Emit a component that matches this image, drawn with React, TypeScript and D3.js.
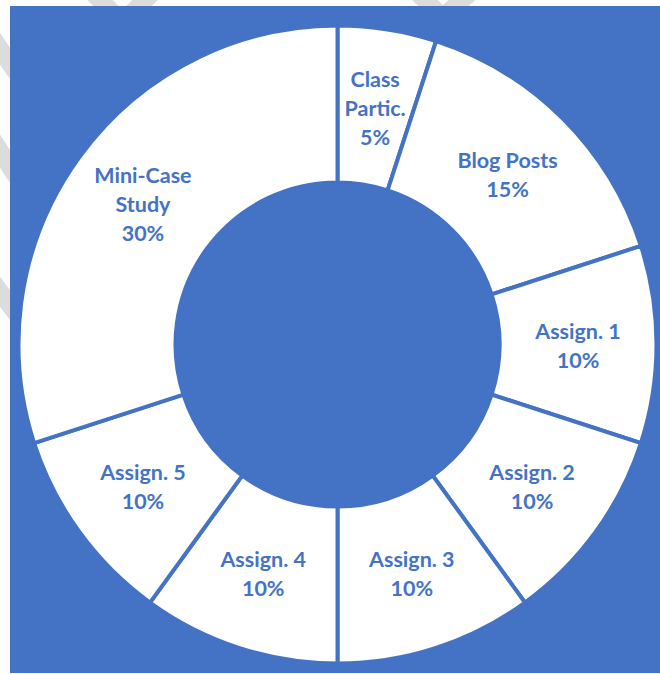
import React from "react";
import * as d3 from "d3";

const categories = ["Class Partic.", "Blog Posts", "Assign. 1", "Assign. 2", "Assign. 3", "Assign. 4", "Assign. 5", "Mini-Case Study"];
const labelLines = [["Class", "Partic."], ["Blog Posts"], ["Assign. 1"], ["Assign. 2"], ["Assign. 3"], ["Assign. 4"], ["Assign. 5"], ["Mini-Case", "Study"]];
const values = [5, 15, 10, 10, 10, 10, 10, 30];

const W = 660;
const H = 674;
const BLUE = "#4472C4";
const cx = 337.5;
const cy = 344.5;
const rOuter = 319;
const rInner = 162;

export default function App() {
  const data = categories.map((c, i) => ({ c, v: values[i], lines: labelLines[i] }));
  const pie = d3.pie<any>().sort(null).value((d: any) => d.v).startAngle(0).endAngle(2 * Math.PI);
  const arcs = pie(data);
  const arc = d3.arc<any>().innerRadius(rInner).outerRadius(rOuter);
  const labelArc = d3.arc<any>().innerRadius((rInner + rOuter) / 2).outerRadius((rInner + rOuter) / 2);
  const lh = 29;
  return (
    <svg width={W} height={H} style={{ position: "absolute", left: 0, top: 0 }}>
      <rect x={0} y={0} width={W} height={H} fill="#ffffff" />
      <g stroke="#dcdcdc" strokeWidth={18} fill="none">
        <line x1={70} y1={-30} x2={125} y2={25} />
        <line x1={175} y1={-30} x2={120} y2={25} />
        <line x1={395} y1={-30} x2={445} y2={20} />
        <line x1={495} y1={-30} x2={440} y2={20} />
        <line x1={-20} y1={20} x2={25} y2={85} />
        <line x1={-20} y1={120} x2={25} y2={190} />
        <line x1={-20} y1={265} x2={25} y2={325} />
      </g>
      <rect x={10} y={6} width={W - 10} height={667} fill={BLUE} />
      <g transform={`translate(${cx},${cy})`}>
        {arcs.map((a, i) => (
          <path key={i} d={arc(a) as string} fill="#ffffff" stroke={BLUE} strokeWidth={4} strokeLinejoin="miter" />
        ))}
        <circle r={rInner} fill={BLUE} />
        {arcs.map((a, i) => {
          const [x, y] = labelArc.centroid(a);
          const lines = [...a.data.lines, `${a.data.v}%`];
          const y0 = y - ((lines.length - 1) * lh) / 2;
          return (
            <text
              key={"t" + i}
              x={x}
              textAnchor="middle"
              fill={BLUE}
              fontFamily="Lato, 'Open Sans', sans-serif"
              fontWeight="bold"
              fontSize={21.5}
            >
              {lines.map((l, j) => (
                <tspan key={j} x={x} y={y0 + j * lh + 1} dy="0.35em">
                  {l}
                </tspan>
              ))}
            </text>
          );
        })}
      </g>
    </svg>
  );
}
